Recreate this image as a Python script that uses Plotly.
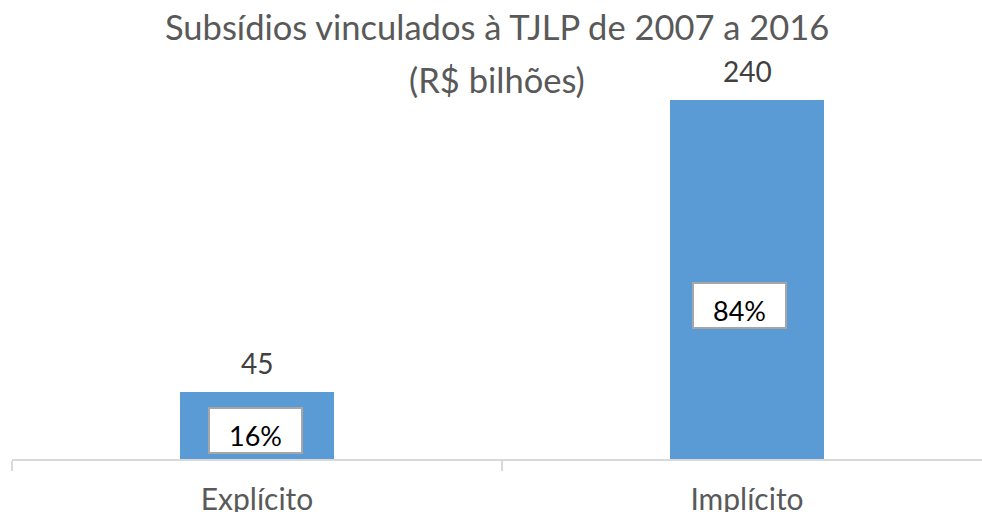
import plotly.graph_objects as go

categories = ["Explícito", "Implícito"]
values = [45, 240]
title_line1 = "Subsídios vinculados à TJLP de 2007 a 2016"
title_line2 = "(R$ bilhões)"

total = sum(values)
shares = [f"{round(v / total * 100):d}%" for v in values]

FONT = "Lato"

fig = go.Figure()
fig.add_trace(go.Bar(
    x=categories, y=values, width=0.316,
    marker=dict(color="#5B9BD5", line=dict(width=0)),
    hoverinfo="skip",
))

annotations = []
for i, (c, v, s) in enumerate(zip(categories, values, shares)):
    annotations.append(dict(
        x=c, y=v, xref="x", yref="y", text=str(v), showarrow=False,
        yanchor="middle", yshift=29,
        font=dict(family=FONT, size=28, color="#404040"),
    ))
    annotations.append(dict(
        x=c, y=v * 0.428, xref="x", yref="y", text=s, showarrow=False,
        xshift=-2 if i == 0 else -8,
        yanchor="middle", width=91, height=43, valign="bottom",
        bgcolor="white", bordercolor="#A6A6A6", borderwidth=2, borderpad=0,
        font=dict(family=FONT, size=27, color="black"),
    ))

annotations.append(dict(
    x=0.5, y=1.205, xref="paper", yref="paper", text=title_line1, showarrow=False,
    xanchor="center", yanchor="middle",
    font=dict(family=FONT, size=34.5, color="#595959"),
))
annotations.append(dict(
    x=0.5, y=1.058, xref="paper", yref="paper", text=title_line2, showarrow=False,
    xanchor="center", yanchor="middle",
    font=dict(family=FONT, size=34.5, color="#595959"),
))

fig.update_layout(
    width=982, height=512,
    margin=dict(l=12, r=0, t=100, b=53, autoexpand=False),
    paper_bgcolor="white", plot_bgcolor="white",
    showlegend=False,
    bargap=0,
    xaxis=dict(
        range=[-0.5, 1.4796], showline=True, linecolor="#D9D9D9", linewidth=2,
        ticks="outside", tickson="boundaries", ticklen=10, tickcolor="#D9D9D9",
        tickwidth=1.5, showgrid=False, zeroline=False, ticklabelstandoff=13,
        tickfont=dict(family=FONT, size=30, color="#595959"),
        fixedrange=True, automargin=False,
    ),
    yaxis=dict(range=[0, 240], visible=False, fixedrange=True, automargin=False),
    annotations=annotations,
)

fig.write_html("out.html", config={"displayModeBar": False},
               post_script="document.body.style.margin='0';")
